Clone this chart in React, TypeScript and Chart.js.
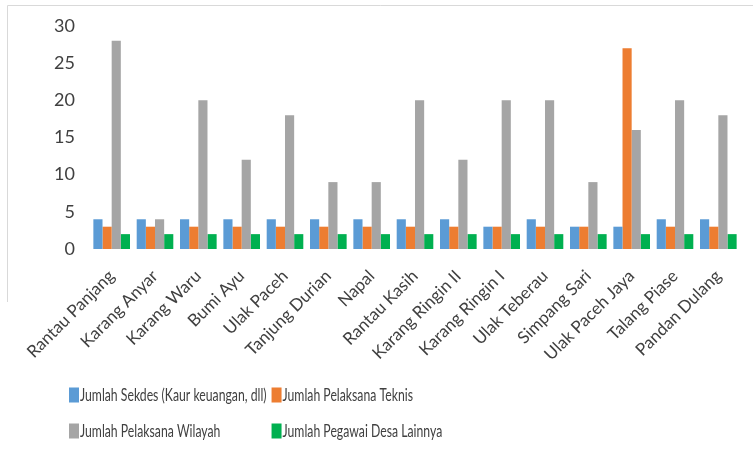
import React, { useEffect, useRef } from "react";
import { Chart, registerables } from "chart.js";

Chart.register(...registerables);

const categories = [
  "Rantau Panjang", "Karang Anyar", "Karang Waru", "Bumi Ayu", "Ulak Paceh",
  "Tanjung Durian", "Napal", "Rantau Kasih", "Karang Ringin II", "Karang Ringin I",
  "Ulak Teberau", "Simpang Sari", "Ulak Paceh Jaya", "Talang Piase", "Pandan Dulang",
];
const seriesNames = [
  "Jumlah Sekdes (Kaur keuangan, dll)",
  "Jumlah Pelaksana Teknis",
  "Jumlah Pelaksana Wilayah",
  "Jumlah Pegawai Desa Lainnya",
];
const sekdes = [4, 4, 4, 4, 4, 4, 4, 4, 4, 3, 4, 3, 3, 4, 4];
const teknis = [3, 3, 3, 3, 3, 3, 3, 3, 3, 3, 3, 3, 27, 3, 3];
const wilayah = [28, 4, 20, 12, 18, 9, 9, 20, 12, 20, 20, 9, 16, 20, 18];
const lainnya = [2, 2, 2, 2, 2, 2, 2, 2, 2, 2, 2, 2, 2, 2, 2];
const yTicks = [0, 5, 10, 15, 20, 25, 30];
const colors = ["#5b9bd5", "#ed7d31", "#a5a5a5", "#00b050"];

const FONT = "Lato, 'Liberation Sans', sans-serif";
const TEXT = "#404040";

const legendPlugin = {
  id: "gridLegend",
  afterDraw(chart: any) {
    const ctx = chart.ctx;
    ctx.save();
    // frame
    ctx.strokeStyle = "#d9d9d9";
    ctx.lineWidth = 1;
    ctx.beginPath();
    ctx.moveTo(7.5, 302);
    ctx.lineTo(7.5, 5.5);
    ctx.lineTo(753, 5.5);
    ctx.stroke();

    ctx.font = `18px ${FONT}`;
    ctx.textBaseline = "middle";
    ctx.textAlign = "left";
    const ds = chart.data.datasets;
    const x0 = 69;
    const boxW = 10;
    const boxH = 15;
    const squeeze = 0.68;
    const col1W =
      squeeze *
      Math.max(ctx.measureText(ds[0].label).width, ctx.measureText(ds[2].label).width);
    const x1 = x0 + boxW + 1 + col1W + 5;
    const rows = [395, 431];
    ds.forEach((d: any, i: number) => {
      const x = i % 2 === 0 ? x0 : x1;
      const y = rows[Math.floor(i / 2)];
      ctx.fillStyle = d.backgroundColor;
      ctx.fillRect(x, y - boxH / 2, boxW, boxH);
      ctx.fillStyle = TEXT;
      ctx.save();
      ctx.translate(x + boxW + 1, y);
      ctx.scale(squeeze, 1);
      ctx.fillText(d.label, 0, 0);
      ctx.restore();
    });
    ctx.restore();
  },
};

export default function App() {
  const ref = useRef<HTMLCanvasElement | null>(null);
  useEffect(() => {
    if (!ref.current) return;
    const data = [sekdes, teknis, wilayah, lainnya];
    const chart = new Chart(ref.current, {
      type: "bar",
      data: {
        labels: categories,
        datasets: seriesNames.map((name, i) => ({
          label: name,
          data: data[i],
          backgroundColor: colors[i],
          barPercentage: 1,
          categoryPercentage: 0.845,
        })),
      },
      options: {
        animation: false,
        responsive: false,
        maintainAspectRatio: false,
        layout: { padding: { left: 0, right: 13, top: 26, bottom: 80 } },
        plugins: { legend: { display: false }, tooltip: { enabled: false } },
        scales: {
          x: {
            grid: { display: false },
            border: { display: false },
            ticks: {
              color: TEXT,
              font: { family: FONT, size: 17 },
              maxRotation: 45,
              minRotation: 45,
              autoSkip: false,
              padding: 9,
            },
            afterFit: (s: any) => {
              s.height = 120;
            },
          },
          y: {
            min: 0,
            max: 30,
            grid: { display: false },
            border: { display: false },
            afterBuildTicks: (s: any) => {
              s.ticks = yTicks.map((v) => ({ value: v }));
            },
            ticks: {
              color: TEXT,
              font: { family: FONT, size: 18 },
              padding: 7,
            },
            afterFit: (s: any) => {
              s.width = 90;
            },
          },
        },
      },
      plugins: [legendPlugin],
    });
    return () => chart.destroy();
  }, []);
  return (
    <div style={{ position: "absolute", left: 0, top: 0, width: 753, height: 449, background: "#fff" }}>
      <canvas ref={ref} width={753} height={449} style={{ width: 753, height: 449 }} />
    </div>
  );
}
